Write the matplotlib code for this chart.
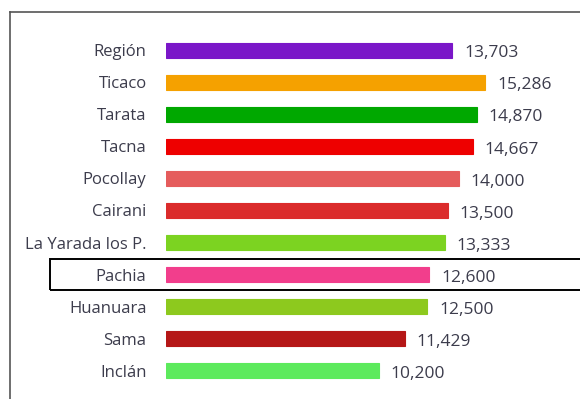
import matplotlib
matplotlib.use("Agg")
import matplotlib.pyplot as plt
from matplotlib.lines import Line2D
from matplotlib.patches import Rectangle

categories = ["Región", "Ticaco", "Tarata", "Tacna", "Pocollay", "Cairani",
              "La Yarada los P.", "Pachia", "Huanuara", "Sama", "Inclán"]
values = [13703, 15286, 14870, 14667, 14000, 13500, 13333, 12600, 12500, 11429, 10200]
value_labels = ["13,703", "15,286", "14,870", "14,667", "14,000", "13,500",
                "13,333", "12,600", "12,500", "11,429", "10,200"]
colors = ["#7A16C8", "#F5A100", "#00A800", "#EE0000", "#E55C5C", "#DB2B2B",
          "#7CD321", "#F23E8C", "#8DC91E", "#B51717", "#5CEA5C"]
highlight = "Pachia"

plt.rcParams['font.family'] = ['Open Sans', 'DejaVu Sans']

fig = plt.figure(figsize=(5.8, 3.99), dpi=100)
fig.patch.set_facecolor("white")
W, H = 580, 399
left_px, right_px = 166, 575
top_px, bot_px = 34, 387
ax = fig.add_axes([left_px / W, 1 - bot_px / H, (right_px - left_px) / W, (bot_px - top_px) / H])

n = len(categories)
ypos = list(range(n))
ax.barh(ypos, values, height=0.47, color=colors, edgecolor=colors, linewidth=0.8)
ax.set_xlim(0, 19570)
ax.set_ylim(n - 0.5, -0.5)
ax.set_yticks(ypos)
ax.set_yticklabels(categories, fontsize=12, color="#3c3c4c")
ax.tick_params(axis="y", length=0, pad=14)
ax.set_xticks([])
for s in ax.spines.values():
    s.set_visible(False)

for y, v, lab in zip(ypos, values, value_labels):
    ax.text(v + 560, y + 0.1, lab, va="center", ha="left", fontsize=12.5, color="#3c3c4c")

# highlight box around Pachia
y0_px = 259
y1_px = 290
fig.add_artist(Rectangle((50 / W, 1 - y1_px / H), (600 - 50) / W, (y1_px - y0_px) / H,
                         transform=fig.transFigure, fill=False, edgecolor="black",
                         linewidth=1.4, clip_on=False))

# outer frame lines
fig.add_artist(Line2D([10 / W, 1.0], [1 - 12 / H, 1 - 12 / H], transform=fig.transFigure,
                      color="#555555", linewidth=1.2))
fig.add_artist(Line2D([10 / W, 10 / W], [0, 1 - 12 / H], transform=fig.transFigure,
                      color="#555555", linewidth=1.2))

fig.savefig("out.png", dpi=100)
